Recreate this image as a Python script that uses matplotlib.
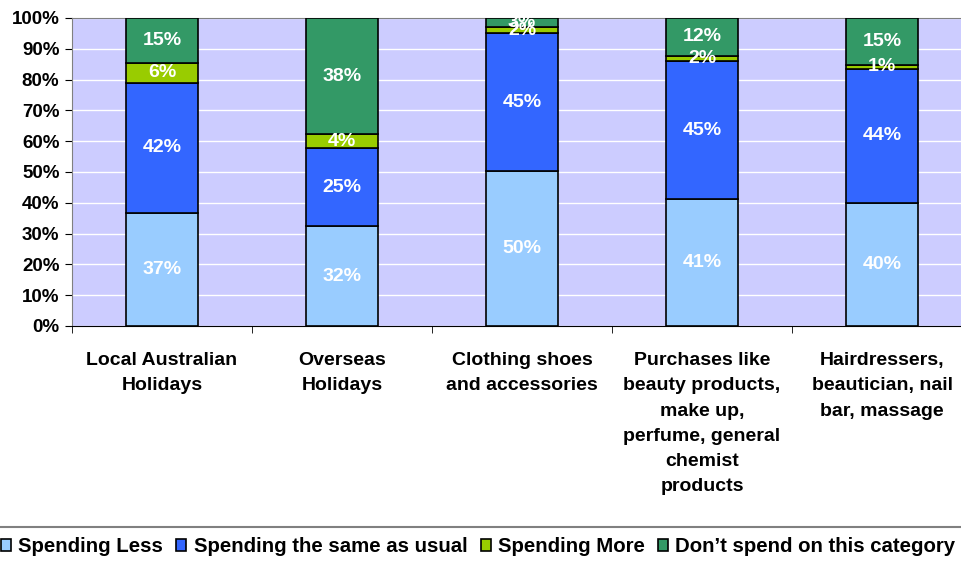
import numpy as np
import matplotlib.pyplot as plt
from matplotlib.lines import Line2D
from matplotlib.ticker import FuncFormatter, MultipleLocator

plt.rcParams['font.family'] = ['Liberation Sans', 'DejaVu Sans']
plt.rcParams['font.weight'] = 'bold'

categories = ['Local Australian\nHolidays',
              'Overseas\nHolidays',
              'Clothing shoes\nand accessories',
              'Purchases like\nbeauty products,\nmake up,\nperfume, general\nchemist\nproducts',
              'Hairdressers,\nbeautician, nail\nbar, massage']
series = ['Spending Less', 'Spending the same as usual', 'Spending More',
          'Don\u2019t spend on this category']
spending_less = [36.8, 32.4, 50.4, 41.2, 39.9]
spending_same = [42.2, 25.4, 44.6, 44.8, 43.6]
spending_more = [6.3, 4.4, 2.0, 1.7, 1.3]
dont_spend = [14.7, 37.8, 3.0, 12.3, 15.2]
colors = ['#99CCFF', '#3366FF', '#99CC00', '#339966']

fig = plt.figure(figsize=(9.62, 5.61), dpi=100)
ax = fig.add_axes([72 / 962, 1 - 326 / 561, 900 / 962, 308 / 561])
ax.set_facecolor('#CCCCFF')

x = np.arange(len(categories))
bottom = np.zeros(len(categories))
for name, vals, col in zip(series, [spending_less, spending_same, spending_more, dont_spend], colors):
    vals = np.array(vals)
    ax.bar(x, vals, 0.405, bottom=bottom, color=col, edgecolor='black',
           linewidth=1.2, label=name, zorder=3)
    for xi, b, v in zip(x, bottom, vals):
        ax.text(xi, b + v / 2, '%d%%' % round(v), ha='center', va='center',
                color='white', fontsize=14, fontweight='bold', zorder=4)
    bottom += vals

ax.set_xlim(-0.5, len(categories) - 0.5)
ax.set_ylim(0, 100)
ax.yaxis.set_major_locator(MultipleLocator(10))
ax.yaxis.set_major_formatter(FuncFormatter(lambda v, p: '%d%%' % v))
ax.grid(axis='y', color='white', linewidth=1, zorder=0)
ax.set_xticks(x)
ax.set_xticklabels(categories, fontsize=14, fontweight='bold', linespacing=1.62, va='top')
ax.set_xticks(np.arange(len(categories) + 1) - 0.5, minor=True)
ax.tick_params(axis='x', which='major', length=0, pad=19)
ax.tick_params(axis='x', which='minor', length=5, direction='out')
ax.tick_params(axis='y', labelsize=13.5, length=5, direction='out', pad=4)
for lab in ax.get_yticklabels():
    lab.set_fontweight('bold')
ax.spines['left'].set_color('#808080')
ax.spines['top'].set_color('#808080')
ax.spines['right'].set_visible(False)
ax.spines['bottom'].set_color('black')

fig.add_artist(Line2D([0, 1], [1 - 527 / 561] * 2, color='#808080', linewidth=1.5))
handles, labels = ax.get_legend_handles_labels()
fig.legend(handles, labels, loc='center', bbox_to_anchor=(0.497, 1 - 547 / 561),
           ncol=4, frameon=False, fontsize=14.7, handlelength=0.5, handleheight=0.5,
           handletextpad=0.35, columnspacing=0.65, borderaxespad=0)

plt.savefig('out.png', dpi=100)
